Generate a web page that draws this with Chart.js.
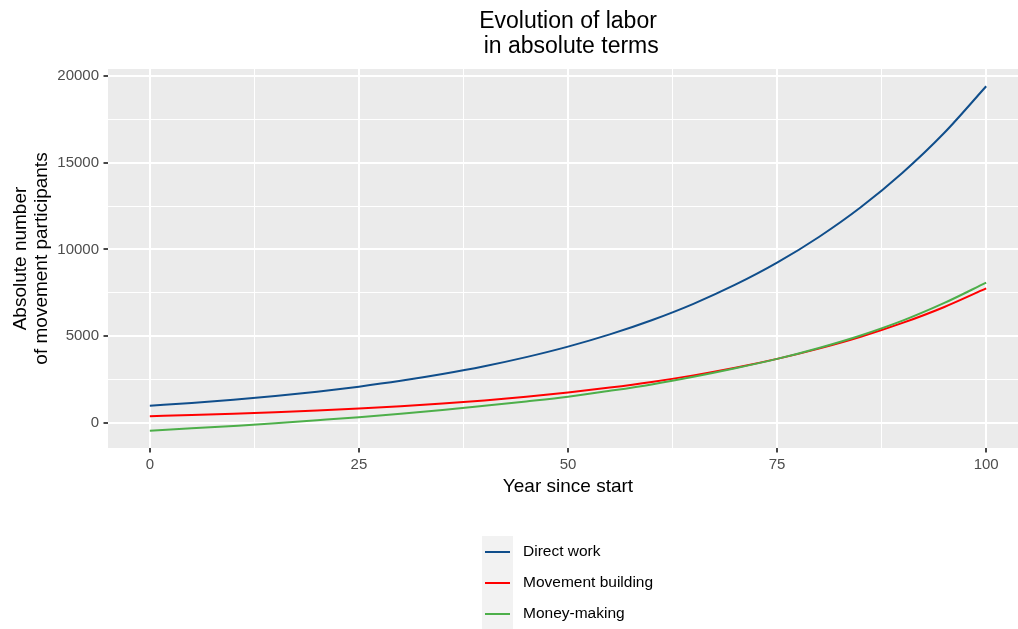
<!DOCTYPE html>
<html>
<head>
<meta charset="utf-8">
<title>Evolution of labor</title>
<script src="https://cdn.jsdelivr.net/npm/chart.js@4.4.1/dist/chart.umd.min.js"></script>
<style>
  html, body { margin: 0; padding: 0; background: #fff; overflow: hidden; }
  /* the panel runs past the right edge of the window, as in the original export */
  #wrap { position: absolute; left: 0; top: 0; width: 1028px; height: 629px; }
</style>
</head>
<body>
<div id="wrap"><canvas id="chart-labor" width="1028" height="629"></canvas></div>
<script>
// 年份 (x) 與三條序列，數值由圖上讀出
const years = [0, 5, 10, 15, 20, 25, 30, 35, 40, 45, 50, 55, 60, 65, 70, 75, 80, 85, 90, 95, 100];
const directWork = [1000, 1160, 1345, 1560, 1810, 2100, 2435, 2825, 3275, 3800, 4405, 5110, 5925, 6870, 7970, 9240, 10720, 12430, 14420, 16720, 19400];
const movementBuilding = [400, 464, 538, 624, 724, 840, 974, 1130, 1310, 1520, 1760, 2045, 2370, 2750, 3190, 3700, 4290, 4970, 5770, 6690, 7760];
const moneyMaking = [-440, -300, -160, -10, 165, 345, 545, 760, 1000, 1250, 1520, 1860, 2230, 2670, 3160, 3700, 4330, 5050, 5900, 6920, 8090];

const seriesNames = ["Direct work", "Movement building", "Money-making"];
const seriesColors = ["#104E8B", "#FF0000", "#4DAF4A"];

const xMajor = [0, 25, 50, 75, 100];
const xMinor = [12.5, 37.5, 62.5, 87.5];
const yMajor = [0, 5000, 10000, 15000, 20000];
const yMinor = [2500, 7500, 12500, 17500];

const titleLines = ["Evolution of labor", " in absolute terms"];
const yTitleLines = ["Absolute number", "of movement participants"];
const xTitle = "Year since start";

const FONT = '"Liberation Sans", Arial, Helvetica, sans-serif';
Chart.defaults.font.family = FONT;

const toPoints = vals => vals.map((v, i) => ({ x: years[i], y: v }));
const allTicks = (major, minor) => major.concat(minor).sort((a, b) => a - b).map(v => ({ value: v }));

// 灰色面板背景
const panelBg = {
    id: 'panelBg',
    beforeDraw(chart) {
        const { ctx, chartArea: a } = chart;
        ctx.save();
        ctx.fillStyle = '#EBEBEB';
        ctx.fillRect(a.left, a.top, a.right - a.left, a.bottom - a.top);
        ctx.restore();
    }
};

// 直式圖例 (ggplot 風格)
const legendKeys = {
    id: 'legendKeys',
    afterDraw(chart) {
        const ctx = chart.ctx;
        const sets = chart.data.datasets;
        const keyX = 482, keyW = 31, keyTop = 536, keyH = 31;
        ctx.save();
        ctx.fillStyle = '#F2F2F2';
        ctx.fillRect(keyX, keyTop, keyW, keyH * sets.length);
        ctx.font = '15.5px ' + FONT;
        ctx.textBaseline = 'middle';
        ctx.textAlign = 'left';
        sets.forEach((ds, i) => {
            const cy = keyTop + keyH * i + keyH / 2 + 0.5;
            ctx.strokeStyle = ds.borderColor;
            ctx.lineWidth = ds.borderWidth;
            ctx.beginPath();
            ctx.moveTo(keyX + 3, cy);
            ctx.lineTo(keyX + 28, cy);
            ctx.stroke();
            ctx.fillStyle = '#000';
            ctx.fillText(ds.label, keyX + 41, cy);
        });
        ctx.restore();
    }
};

const datasets = [directWork, movementBuilding, moneyMaking].map((vals, i) => ({
    label: seriesNames[i],
    data: toPoints(vals),
    borderColor: seriesColors[i],
    backgroundColor: seriesColors[i],
    borderWidth: 2,
    pointRadius: 0,
    cubicInterpolationMode: 'monotone',
    order: 2 - i
}));

const gridOpts = major => ({
    color: '#FFFFFF',
    lineWidth: c => major.includes(c.tick.value) ? 2 : 1,
    drawTicks: true,
    tickLength: 4.5,
    tickWidth: 1.8,
    tickColor: c => major.includes(c.tick.value) ? '#333333' : 'rgba(0,0,0,0)'
});

new Chart(document.getElementById('chart-labor').getContext('2d'), {
    type: 'line',
    data: { datasets },
    plugins: [panelBg, legendKeys],
    options: {
        responsive: false,
        animation: false,
        devicePixelRatio: 1,
        layout: { padding: { top: 0, left: 0, right: 0, bottom: 121 } },
        plugins: {
            legend: { display: false },
            tooltip: { enabled: false },
            title: {
                display: true,
                fullSize: false,
                text: titleLines,
                color: '#000',
                font: { size: 23, weight: 'normal', lineHeight: 25 / 23 },
                padding: { top: 9, bottom: 10 }
            }
        },
        scales: {
            x: {
                type: 'linear',
                min: -5,
                max: 105,
                afterBuildTicks: s => { s.ticks = allTicks(xMajor, xMinor); },
                afterFit: s => { s.height = 60; s.paddingLeft = 0; s.paddingRight = 0; },
                grid: gridOpts(xMajor),
                border: { display: false },
                ticks: {
                    autoSkip: false,
                    maxRotation: 0,
                    padding: 3,
                    color: '#4D4D4D',
                    font: { size: 15 },
                    callback: v => xMajor.includes(v) ? String(v) : ''
                },
                title: {
                    display: true,
                    text: xTitle,
                    color: '#000',
                    font: { size: 19, lineHeight: 21 / 19 },
                    padding: { top: 0, bottom: 11 }
                }
            },
            y: {
                type: 'linear',
                min: -1432,
                max: 20392,
                afterBuildTicks: s => { s.ticks = allTicks(yMajor, yMinor); },
                afterFit: s => { s.width = 108; s.paddingTop = 0; s.paddingBottom = 0; },
                grid: gridOpts(yMajor),
                border: { display: false },
                ticks: {
                    autoSkip: false,
                    padding: 4.5,
                    color: '#4D4D4D',
                    font: { size: 15 },
                    callback: v => yMajor.includes(v) ? String(v) : ''
                },
                title: {
                    display: true,
                    text: yTitleLines,
                    color: '#000',
                    font: { size: 19, lineHeight: 21 / 19 },
                    padding: { top: 10.5, bottom: 0 }
                }
            }
        }
    }
});
</script>
</body>
</html>
